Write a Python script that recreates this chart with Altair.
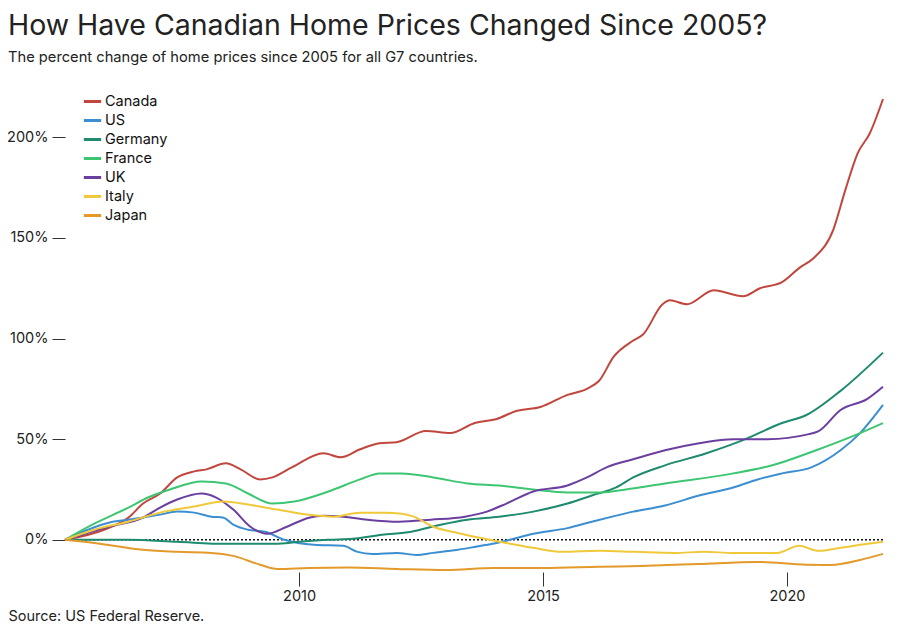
import altair as alt
import pandas as pd

COUNTRIES = ["Canada", "US", "Germany", "France", "UK", "Italy", "Japan"]
COLORS = ["#c1473e", "#3b8fd1", "#1e8a6f", "#3dc672", "#6b3fa0", "#efc93a", "#e39a2a"]

CANADA_X = [2005.2, 2006.0, 2006.5, 2006.8, 2007.15, 2007.5, 2007.85, 2008.1, 2008.5, 2008.8, 2009.2, 2009.45,
            2009.85, 2010.5, 2010.85, 2011.25, 2011.65, 2012.0, 2012.6, 2013.1, 2013.6, 2014.05, 2014.45, 2014.95,
            2015.5, 2015.9, 2016.15, 2016.45, 2016.85, 2017.05, 2017.45, 2017.6, 2017.95, 2018.5, 2019.1, 2019.45,
            2019.9, 2020.25, 2020.55, 2020.95, 2021.2, 2021.45, 2021.7, 2021.97]
CANADA_Y = [0, 5, 11, 18, 23, 31, 34, 35, 38, 35, 30, 31,
            36, 43, 41, 45, 48, 48.5, 54, 53, 58, 60, 64, 66,
            72, 75, 79, 91, 99, 102, 117, 119, 117, 124, 121, 125,
            128, 135, 140, 154, 174, 192, 202, 219]

US_X = [2005.2, 2006.1, 2006.5, 2007.15, 2007.5, 2007.85, 2008.2, 2008.45, 2008.65, 2008.95, 2009.3, 2009.7,
        2010.3, 2010.9, 2011.2, 2011.5, 2012.0, 2012.4, 2012.75, 2013.25, 2013.65, 2014.05, 2014.4, 2014.8,
        2015.5, 2016.0, 2016.5, 2016.85, 2017.5, 2018.2, 2018.9, 2019.4, 2019.9, 2020.5, 2021.1, 2021.5, 2021.97]
US_Y = [0, 8.5, 10, 12.5, 14, 13.5, 11.5, 11, 7.5, 5, 4, 0,
        -2.5, -3, -6, -7, -6.5, -7.5, -6.5, -5, -3.3, -1.6, 0.5, 3,
        5.8, 9, 12, 14, 17, 22, 26, 30, 33, 36, 44.5, 53, 67]

GERMANY_X = [2005.2, 2006.5, 2007.5, 2008.5, 2009.5, 2010.0, 2010.6, 2011.1, 2011.7, 2012.3, 2012.9, 2013.45,
             2014.1, 2014.8, 2015.5, 2016.0, 2016.5, 2016.85, 2017.5, 2018.35, 2019.1, 2019.9, 2020.4, 2021.1, 2021.97]
GERMANY_Y = [0, 0, -1, -2, -2, -1, 0, 0.5, 2.5, 4, 7.5, 10,
             11.5, 14, 18, 22, 26, 31, 37, 43, 49.5, 58, 62, 74, 93]

FRANCE_X = [2005.2, 2005.8, 2006.5, 2006.9, 2007.35, 2008.0, 2008.5, 2008.95, 2009.45, 2009.9, 2010.6, 2011.25,
            2011.65, 2012.1, 2012.75, 2013.45, 2014.1, 2014.8, 2015.5, 2016.2, 2016.7, 2017.5, 2018.9, 2019.7,
            2020.6, 2021.3, 2021.97]
FRANCE_Y = [0, 8, 16, 21, 25, 29, 28, 23, 18, 19, 24, 30,
            33, 33, 31, 28, 27, 25, 23.5, 23.5, 25, 28, 33, 37,
            44.5, 51, 58]

UK_X = [2005.2, 2006.1, 2006.8, 2007.15, 2007.5, 2008.0, 2008.3, 2008.65, 2009.0, 2009.35, 2009.75, 2010.2,
        2010.5, 2010.9, 2011.4, 2012.05, 2012.7, 2013.4, 2013.85, 2014.25, 2014.8, 2015.5, 2015.9, 2016.3,
        2016.85, 2017.5, 2018.2, 2018.9, 2019.6, 2020.45, 2020.65, 2021.1, 2021.65, 2021.97]
UK_Y = [0, 6.5, 11, 16, 20, 23, 21, 15, 6.5, 3, 6.5, 11,
        12, 11.5, 10, 9, 10, 11.5, 14, 18, 24, 27, 31, 36,
        40, 44.5, 48, 50, 50, 52.5, 54, 64.5, 70, 76]

ITALY_X = [2005.2, 2005.8, 2006.5, 2007.15, 2007.85, 2008.45, 2008.95, 2009.55, 2010.2, 2010.7, 2011.25, 2011.75,
           2012.1, 2012.35, 2012.75, 2013.25, 2013.7, 2014.25, 2014.8, 2015.4, 2016.15, 2016.9, 2017.7, 2018.3,
           2018.9, 2019.8, 2020.25, 2020.65, 2021.1, 2021.5, 2021.97]
ITALY_Y = [0, 5, 9, 13.5, 16.5, 19, 17.5, 15, 12.4, 11.5, 13.4, 13.4,
           13, 11.5, 6.5, 3.4, 1, -1.6, -4, -6, -5.5, -6, -6.5, -6,
           -6.5, -6.5, -3, -5.5, -4, -2.5, -1]

JAPAN_X = [2005.2, 2005.8, 2006.8, 2007.5, 2008.2, 2008.65, 2009.2, 2009.55, 2010.2, 2011.0, 2012.0, 2013.0,
           2014.0, 2015.0, 2016.15, 2017.0, 2018.2, 2019.4, 2020.4, 2020.9, 2021.5, 2021.97]
JAPAN_Y = [0, -1.6, -5, -6, -6.5, -8, -12.4, -14.5, -14, -13.8, -14.5, -15,
           -14, -14, -13.4, -13, -12, -11, -12.4, -12.5, -10, -7]

Y_TICKS = [0, 50, 100, 150, 200]
X_TICKS = [2010, 2015, 2020]

series = {
    "Canada": (CANADA_X, CANADA_Y),
    "US": (US_X, US_Y),
    "Germany": (GERMANY_X, GERMANY_Y),
    "France": (FRANCE_X, FRANCE_Y),
    "UK": (UK_X, UK_Y),
    "Italy": (ITALY_X, ITALY_Y),
    "Japan": (JAPAN_X, JAPAN_Y),
}
rows = []
for name, (xs, ys) in series.items():
    for x, y in zip(xs, ys):
        rows.append({"country": name, "year": x, "change": y})
df = pd.DataFrame(rows)

W, H = 818, 475

x_scale = alt.Scale(domain=[2005.2, 2021.97], nice=False, zero=False)
y_scale = alt.Scale(domain=[-16, 220], nice=False)

zero = alt.Chart(pd.DataFrame({"v": [0]})).mark_rule(
    color="#111", strokeDash=[2, 2], strokeWidth=1.5
).encode(y=alt.Y("v:Q", scale=y_scale))

lines = alt.Chart(df).mark_line(strokeWidth=2, interpolate="monotone").encode(
    x=alt.X("year:Q", scale=x_scale,
            axis=alt.Axis(values=X_TICKS, format="d", domain=False, grid=False,
                          tickSize=14, tickColor="#333", labelFontSize=14.5, labelColor="#222",
                          labelPadding=3, title="Source: US Federal Reserve.",
                          titleX=-57, titleY=48, titleAlign="left", titleAnchor="start",
                          titleBaseline="alphabetic", titleFontSize=14.5, titleFontWeight="normal",
                          titleColor="#222")),
    y=alt.Y("change:Q", scale=y_scale,
            axis=alt.Axis(values=Y_TICKS, labelExpr="datum.value + '%'", domain=False, grid=False,
                          tickSize=13, tickColor="#333", labelFontSize=14.5, labelColor="#222",
                          labelPadding=4, title=None)),
    color=alt.Color("country:N", scale=alt.Scale(domain=COUNTRIES, range=COLORS),
                    legend=alt.Legend(title=None, orient="none", legendX=17, legendY=-6,
                                      symbolType="stroke", symbolSize=300, symbolStrokeWidth=3,
                                      labelFontSize=14.5, labelColor="#111", labelOffset=2,
                                      rowPadding=2, padding=0)),
    detail="country:N",
)

chart = alt.layer(zero, lines).properties(
    width=W, height=H,
    autosize=alt.AutoSizeParams(type="none"),
    padding={"left": 57, "top": 89, "right": 8, "bottom": 50},
    title=alt.TitleParams(
        "How Have Canadian Home Prices Changed Since 2005?",
        subtitle="The percent change of home prices since 2005 for all G7 countries.",
        anchor="start", frame="group", dx=-57, offset=26,
        fontSize=28.5, fontWeight="normal", color="#222",
        subtitleFontSize=14.7, subtitleColor="#222", subtitlePadding=10,
    ),
).configure(font="Inter").configure_view(strokeWidth=0)

chart.save("out.html", embed_options={"renderer": "svg", "actions": False})
